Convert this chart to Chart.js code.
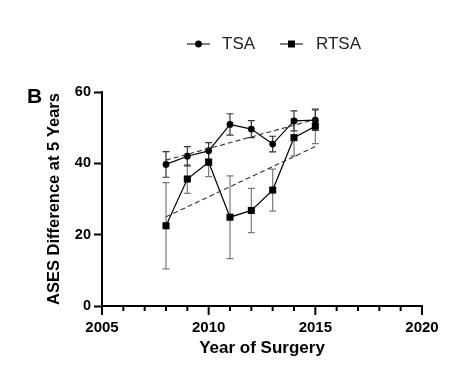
<!DOCTYPE html>
<html>
<head>
<meta charset="utf-8">
<script src="https://cdn.jsdelivr.net/npm/chart.js@4.4.1/dist/chart.umd.min.js"></script>
<style>
  html, body { margin: 0; padding: 0; background: #fff; }
  #wrap { position: relative; width: 471px; height: 373px; }
</style>
</head>
<body>
<div id="wrap"><canvas id="surgeryChart" width="471" height="373"></canvas></div>
<script>
// Data
const years = [2008, 2009, 2010, 2011, 2012, 2013, 2014, 2015];
const tsaMean = [39.7, 42.0, 43.5, 50.9, 49.6, 45.4, 51.9, 52.1];
const tsaErr = [3.6, 2.7, 2.3, 3.0, 2.4, 2.2, 2.8, 2.9];
const rtsaMean = [22.5, 35.6, 40.3, 24.9, 26.8, 32.5, 47.2, 50.4];
const rtsaErr = [12.1, 4.0, 4.0, 11.6, 6.2, 5.9, 5.1, 4.9];

// Linear fit lines (end points)
const fitYears = [2008, 2015];
const tsaFit = [40.9, 52.3];
const rtsaFit = [25.0, 44.7];

const xTicks = [2005, 2010, 2015, 2020];
const yTicks = [0, 20, 40, 60];

const fontFamily = "'Liberation Sans', Arial, Helvetica, sans-serif";

function toPoints(xs, ys) {
    return xs.map((x, i) => ({ x: x, y: ys[i] }));
}

// Error bars, drawn through the chart scales
const errorBars = {
    id: 'errorBars',
    beforeDatasetsDraw(chart) {
        const ctx = chart.ctx;
        const xs = chart.scales.x;
        const ys = chart.scales.y;
        const sets = [
            { mean: rtsaMean, err: rtsaErr, color: '#7a7a7a' },
            { mean: tsaMean, err: tsaErr, color: '#333' }
        ];
        ctx.save();
        ctx.lineWidth = 1.2;
        sets.forEach(s => {
            ctx.strokeStyle = s.color;
            years.forEach((yr, i) => {
                const px = xs.getPixelForValue(yr);
                const top = ys.getPixelForValue(s.mean[i] + s.err[i]);
                const bot = ys.getPixelForValue(s.mean[i] - s.err[i]);
                ctx.beginPath();
                ctx.moveTo(px, top); ctx.lineTo(px, bot);
                ctx.moveTo(px - 3.5, top); ctx.lineTo(px + 3.5, top);
                ctx.moveTo(px - 3.5, bot); ctx.lineTo(px + 3.5, bot);
                ctx.stroke();
            });
        });
        ctx.restore();
    }
};

// Minor / major tick marks on the x axis, panel letter and legend
const decorations = {
    id: 'decorations',
    afterDraw(chart) {
        const ctx = chart.ctx;
        const xs = chart.scales.x;
        const bottom = chart.chartArea.bottom;
        ctx.save();
        ctx.strokeStyle = '#000';
        ctx.lineWidth = 2;
        for (let yr = xTicks[0]; yr <= xTicks[xTicks.length - 1]; yr++) {
            const px = xs.getPixelForValue(yr);
            const len = xTicks.includes(yr) ? 9 : 5;
            ctx.beginPath();
            ctx.moveTo(px, bottom);
            ctx.lineTo(px, bottom + len);
            ctx.stroke();
        }

        // Panel letter
        ctx.fillStyle = '#000';
        ctx.font = 'bold 21px ' + fontFamily;
        ctx.textAlign = 'left';
        ctx.textBaseline = 'middle';
        ctx.fillText('B', 27, 97);

        // Legend
        const ly = 44;
        ctx.lineWidth = 1.2;
        ctx.beginPath();
        ctx.moveTo(187, ly); ctx.lineTo(210, ly);
        ctx.moveTo(280, ly); ctx.lineTo(303, ly);
        ctx.stroke();
        ctx.beginPath();
        ctx.arc(198.5, ly, 3.4, 0, Math.PI * 2);
        ctx.fill();
        ctx.fillRect(288, ly - 3.5, 7, 7);
        ctx.fillStyle = '#222';
        ctx.font = '17px ' + fontFamily;
        ctx.fillText('TSA', 222, ly);
        ctx.fillText('RTSA', 316, ly);
        ctx.restore();
    }
};

const ctx = document.getElementById('surgeryChart').getContext('2d');
const surgeryChart = new Chart(ctx, {
    type: 'scatter',
    data: {
        datasets: [
            {
                label: 'TSA fit',
                data: toPoints(fitYears, tsaFit),
                showLine: true,
                borderColor: '#333',
                borderWidth: 1.1,
                borderDash: [5, 3],
                pointRadius: 0
            },
            {
                label: 'RTSA fit',
                data: toPoints(fitYears, rtsaFit),
                showLine: true,
                borderColor: '#333',
                borderWidth: 1.1,
                borderDash: [5, 3],
                pointRadius: 0
            },
            {
                label: 'RTSA',
                data: toPoints(years, rtsaMean),
                showLine: true,
                borderColor: '#000',
                borderWidth: 1.2,
                backgroundColor: '#000',
                pointStyle: 'rect',
                pointRadius: 5,
                pointBorderWidth: 0
            },
            {
                label: 'TSA',
                data: toPoints(years, tsaMean),
                showLine: true,
                borderColor: '#000',
                borderWidth: 1.2,
                backgroundColor: '#000',
                pointStyle: 'circle',
                pointRadius: 3.4,
                pointBorderWidth: 0
            }
        ]
    },
    options: {
        responsive: false,
        animation: false,
        layout: { padding: { top: 92, right: 49, bottom: 0, left: 0 } },
        plugins: {
            legend: { display: false },
            tooltip: { enabled: false }
        },
        scales: {
            x: {
                type: 'linear',
                min: 2005,
                max: 2020,
                afterFit: s => { s.height = 67; },
                afterBuildTicks: s => { s.ticks = xTicks.map(v => ({ value: v })); },
                border: { color: '#000', width: 2 },
                grid: { drawOnChartArea: false, drawTicks: false },
                ticks: {
                    color: '#000',
                    padding: 13,
                    maxRotation: 0,
                    font: { family: fontFamily, size: 15, weight: 'bold' },
                    callback: v => String(v)
                },
                title: {
                    display: true,
                    text: 'Year of Surgery',
                    color: '#000',
                    padding: { top: 0, bottom: 14 },
                    font: { family: fontFamily, size: 17, weight: 'bold' }
                }
            },
            y: {
                min: 0,
                max: 60,
                afterFit: s => { s.width = 102; },
                afterBuildTicks: s => { s.ticks = yTicks.map(v => ({ value: v })); },
                border: { color: '#000', width: 2 },
                grid: { drawOnChartArea: false, tickLength: 8, tickColor: '#000', tickWidth: 2 },
                ticks: {
                    color: '#000',
                    padding: 3,
                    font: { family: fontFamily, size: 14.5, weight: 'bold' }
                },
                title: {
                    display: true,
                    text: 'ASES Difference at 5 Years',
                    color: '#000',
                    padding: { top: 45, bottom: 0 },
                    font: { family: fontFamily, size: 16.5, weight: 'bold' }
                }
            }
        }
    },
    plugins: [errorBars, decorations]
});
</script>
</body>
</html>
